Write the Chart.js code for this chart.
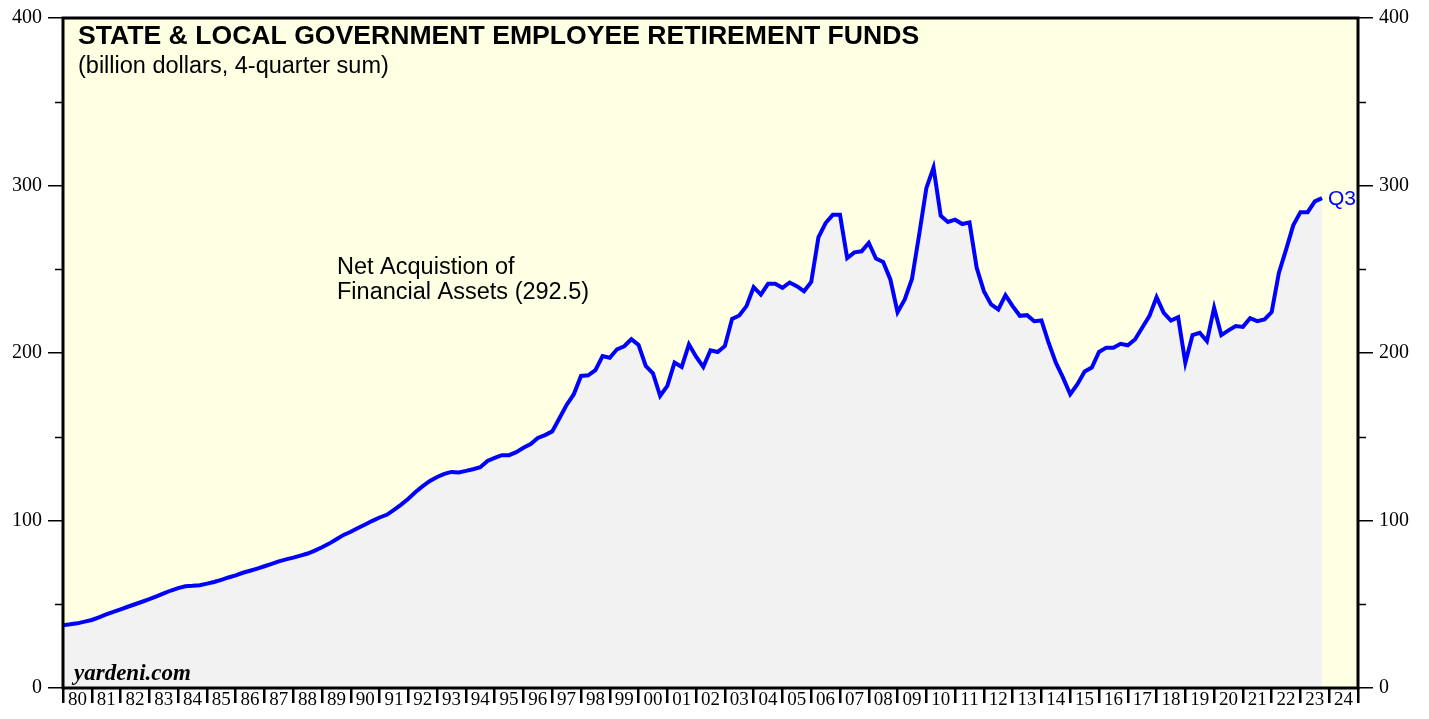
<!DOCTYPE html>
<html>
<head>
<meta charset="utf-8">
<script src="https://cdn.jsdelivr.net/npm/chart.js@4.4.0/dist/chart.umd.min.js"></script>
<style>
  html, body { margin: 0; padding: 0; background: #fff; }
  #wrap { width: 1429px; height: 719px; position: relative; }
</style>
</head>
<body>
<div id="wrap"><canvas id="chart" width="1429" height="719"></canvas></div>
<script>
// quarterly, 4-quarter sum, billion $ -- first value is 1979 Q4, last is 2023 Q3
var startYear = 1979, startQuarter = 4;
var netAcquisition = [
  37.5,
  38.0, 38.6, 39.6, 40.6,
  42.2, 43.9, 45.5, 47.0,
  48.5, 50.0, 51.5, 53.0,
  54.7, 56.5, 58.2, 59.6,
  60.7, 61.0, 61.4, 62.3,
  63.3, 64.6, 66.0, 67.2,
  68.8, 70.0, 71.3, 72.7,
  74.1, 75.6, 76.8, 77.8,
  79.0, 80.3, 82.0, 84.0,
  86.2, 88.8, 91.4, 93.3,
  95.5, 97.6, 99.8, 101.8,
  103.4, 106.3, 109.5, 113.0,
  117.0, 120.5, 123.6, 126.0,
  127.8, 129.0, 128.7, 129.6,
  130.6, 131.8, 135.5, 137.4,
  139.0, 139.0, 140.8, 143.4,
  145.6, 149.3, 151.0, 153.2,
  161.0, 169.0, 175.4, 186.3,
  186.7, 189.7, 198.2, 197.2,
  202.2, 204.0, 208.2, 204.8,
  192.3, 187.9, 174.4, 180.4,
  194.3, 191.7, 205.2, 197.8,
  191.7, 201.6, 200.6, 204.2,
  220.4, 222.4, 228.0, 239.3,
  234.9, 241.3, 241.3, 238.9,
  242.1, 239.9, 236.9, 242.4,
  269.0, 277.6, 282.5, 282.5,
  256.7, 260.1, 260.7, 265.7,
  256.4, 254.4, 243.9, 224.4,
  232.0, 244.2, 270.6, 298.4,
  310.7, 281.9, 278.2, 279.6,
  277.0, 278.0, 250.8, 236.9,
  229.0, 226.0, 234.5, 228.0,
  222.2, 222.6, 219.0, 219.4,
  206.1, 194.2, 185.3, 175.4,
  181.4, 188.9, 191.3, 200.6,
  203.2, 203.2, 205.5, 204.6,
  208.1, 215.1, 222.0, 233.3,
  224.0, 219.4, 221.4, 194.2,
  210.7, 212.1, 207.1, 227.0,
  210.7, 213.5, 216.1, 215.6,
  220.8, 219.0, 220.1, 224.4,
  247.8, 261.7, 276.2, 284.1,
  284.1, 290.5, 292.5
];
var yearTicks = [];
for (var yr = 1980; yr <= 2025; yr++) yearTicks.push(yr);
var valueTicks = [0, 100, 200, 300, 400];
var minorTicks = [50, 150, 250, 350];

var titleText = "STATE & LOCAL GOVERNMENT EMPLOYEE RETIREMENT FUNDS";
var subtitleText = "(billion dollars, 4-quarter sum)";
var seriesLabel = ["Net Acquistion of", "Financial Assets (292.5)"];
var lastLabel = "Q3";

// point at end of each quarter
var points = netAcquisition.map(function (v, i) {
  var q = startQuarter + i;
  return { x: startYear + q / 4, y: v };
});

var serif = "'Liberation Serif', 'Times New Roman', serif";
var sans = "'Liberation Sans', Arial, sans-serif";

var decorations = {
  id: "decorations",
  beforeDraw: function (chart) {
    var a = chart.chartArea, ctx = chart.ctx;
    ctx.save();
    ctx.fillStyle = "#FFFFE3";
    ctx.fillRect(a.left, a.top, a.right - a.left, a.bottom - a.top);
    ctx.restore();
  },
  afterDraw: function (chart) {
    var a = chart.chartArea, ctx = chart.ctx;
    var yL = chart.scales.y, xs = chart.scales.x;
    ctx.save();
    // frame
    ctx.strokeStyle = "#000";
    ctx.lineWidth = 3;
    ctx.strokeRect(a.left, a.top, a.right - a.left, a.bottom - a.top);
    // minor ticks
    ctx.lineWidth = 1.5;
    minorTicks.forEach(function (v) {
      var py = Math.round(yL.getPixelForValue(v)) + 0.5;
      ctx.beginPath();
      ctx.moveTo(a.left - 8, py); ctx.lineTo(a.left, py);
      ctx.moveTo(a.right, py); ctx.lineTo(a.right + 8, py);
      ctx.stroke();
    });
    // texts
    ctx.fillStyle = "#000";
    ctx.textBaseline = "alphabetic";
    ctx.textAlign = "left";
    ctx.font = "bold 26.6px " + sans;
    ctx.fillText(titleText, 78, 44);
    ctx.font = "23.5px " + sans;
    ctx.fillText(subtitleText, 78, 73);
    ctx.font = "23.5px " + sans;
    ctx.fillText(seriesLabel[0], 337, 274);
    ctx.fillText(seriesLabel[1], 337, 299);
    ctx.font = "italic bold 23px " + serif;
    ctx.fillText("yardeni.com", 74, 680);
    // last-point label
    var last = points[points.length - 1];
    ctx.fillStyle = "#0000FF";
    ctx.font = "21px " + sans;
    ctx.textBaseline = "middle";
    ctx.fillText(lastLabel, xs.getPixelForValue(last.x) + 6, yL.getPixelForValue(last.y) + 1);
    ctx.restore();
  }
};

var ctx = document.getElementById("chart").getContext("2d");
new Chart(ctx, {
  type: "line",
  data: {
    datasets: [{
      data: points,
      borderColor: "#0000FF",
      borderWidth: 4,
      backgroundColor: "#F2F2F2",
      fill: "origin",
      pointRadius: 0,
      tension: 0
    }]
  },
  options: {
    responsive: false,
    animation: false,
    layout: { padding: { top: 16, left: 0, right: 0, bottom: 0 } },
    plugins: { legend: { display: false }, tooltip: { enabled: false } },
    scales: {
      x: {
        type: "linear",
        min: 1980, max: 2025,
        afterBuildTicks: function (s) { s.ticks = yearTicks.map(function (v) { return { value: v }; }); },
        afterFit: function (s) { s.height = 31; },
        grid: { drawOnChartArea: false, color: "#000", lineWidth: 2.5, tickLength: 15 },
        border: { display: false },
        ticks: {
          autoSkip: false, maxRotation: 0,
          padding: -14,
          labelOffset: 14.4,
          color: "#000",
          font: { family: serif, size: 19 },
          callback: function (v) { return v >= 2025 ? "" : String(v % 100).padStart(2, "0"); }
        }
      },
      y: {
        position: "left",
        min: 0, max: 400,
        afterBuildTicks: function (s) { s.ticks = valueTicks.map(function (v) { return { value: v }; }); },
        afterFit: function (s) { s.width = 63; },
        grid: { drawOnChartArea: false, color: "#000", lineWidth: 1.5, tickLength: 15 },
        border: { display: false },
        ticks: { color: "#000", padding: 6, font: { family: serif, size: 20 } }
      },
      y2: {
        position: "right",
        min: 0, max: 400,
        afterBuildTicks: function (s) { s.ticks = valueTicks.map(function (v) { return { value: v }; }); },
        afterFit: function (s) { s.width = 71; },
        grid: { drawOnChartArea: false, color: "#000", lineWidth: 1.5, tickLength: 15 },
        border: { display: false },
        ticks: { color: "#000", padding: 6, font: { family: serif, size: 20 } }
      }
    }
  },
  plugins: [decorations]
});
</script>
</body>
</html>
